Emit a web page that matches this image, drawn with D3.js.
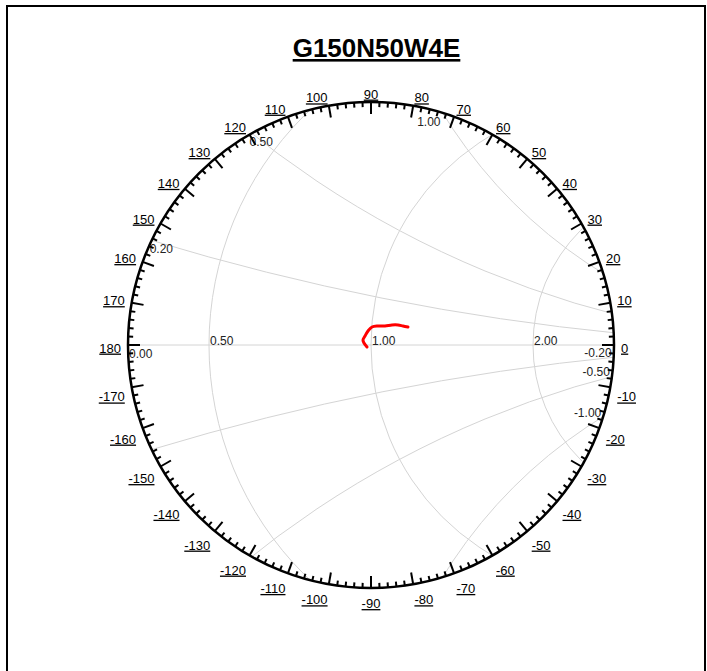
<!DOCTYPE html>
<html>
<head>
<meta charset="utf-8">
<script src="https://cdn.jsdelivr.net/npm/d3@7"></script>
<style>
  body { margin: 0; background: #fff; }
  svg text { font-family: Arial, "Liberation Sans", sans-serif; }
</style>
</head>
<body>
<svg id="chart" width="707" height="671"></svg>
<script>
var title = "G150N50W4E"
var gammaMax = 0.5

// phase labels round the rim (degrees)
var phaseLabels = [0, 10, 20, 30, 40, 50, 60, 70, 80, 90, 100, 110, 120, 130, 140, 150, 160, 170, 180,
  -10, -20, -30, -40, -50, -60, -70, -80, -90, -100, -110, -120, -130, -140, -150, -160, -170]

// smith grid
var resistanceValues = [0.5, 1, 2]
var resistanceLabelValues = [0, 0.5, 1, 2]
var resistanceLabels = ["0.00", "0.50", "1.00", "2.00"]
var reactanceValues = [0.2, 0.5, 1, -0.2, -0.5, -1]
var reactanceLabels = ["0.20", "0.50", "1.00", "-0.20", "-0.50", "-1.00"]

// measured reflection coefficient trace
var gammaRe = [-0.0082, -0.0144, -0.0165, -0.0123, -0.0062, 0.0021, 0.0144, 0.0288, 0.0432, 0.0556, 0.0658, 0.0761]
var gammaIm = [-0.0041, 0.0041, 0.0103, 0.0185, 0.0288, 0.0370, 0.0391, 0.0391, 0.0412, 0.0412, 0.0391, 0.0370]

var dimensions = {
  cx: 371,
  cy: 345,
  radius: 243,
  labelRadius: 250
}

var svg = d3.select("#chart")

// frame
svg.append("rect")
  .attr("x", 7)
  .attr("y", 6)
  .attr("width", 698)
  .attr("height", 720)
  .attr("fill", "none")
  .attr("stroke", "black")
  .attr("stroke-width", 2)

svg.append("text")
  .attr("x", 376.5)
  .attr("y", 57)
  .attr("text-anchor", "middle")
  .style("font-size", "26px")
  .style("font-weight", "bold")
  .style("text-decoration", "underline")
  .text(title)

var x = d3.scaleLinear()
  .domain([-gammaMax, gammaMax])
  .range([dimensions.cx - dimensions.radius, dimensions.cx + dimensions.radius])

var y = d3.scaleLinear()
  .domain([-gammaMax, gammaMax])
  .range([dimensions.cy + dimensions.radius, dimensions.cy - dimensions.radius])

var k = x(1) - x(0)

svg.append("clipPath")
  .attr("id", "disk")
  .append("circle")
    .attr("cx", dimensions.cx)
    .attr("cy", dimensions.cy)
    .attr("r", dimensions.radius)

var grid = svg.append("g")
  .attr("clip-path", "url(#disk)")
  .attr("fill", "none")
  .attr("stroke", "#d4d4d4")
  .attr("stroke-width", 1)

grid.append("line")
  .attr("x1", x(-gammaMax))
  .attr("x2", x(gammaMax))
  .attr("y1", y(0))
  .attr("y2", y(0))

grid.selectAll("circle.r")
  .data(resistanceValues)
  .enter()
  .append("circle")
    .attr("class", "r")
    .attr("cx", d => x(d / (d + 1)))
    .attr("cy", y(0))
    .attr("r", d => k / (d + 1))

grid.selectAll("circle.x")
  .data(reactanceValues)
  .enter()
  .append("circle")
    .attr("class", "x")
    .attr("cx", x(1))
    .attr("cy", d => y(1 / d))
    .attr("r", d => k / Math.abs(d))

// resistance labels on the real axis
svg.selectAll("text.rl")
  .data(resistanceLabelValues)
  .enter()
  .append("text")
    .attr("class", "rl")
    .attr("x", d => x(Math.max(-gammaMax, (d - 1) / (d + 1))) + 1)
    .attr("y", d => d == 0 ? y(0) + 13 : y(0))
    .style("font-size", "12px")
    .attr("fill", "#222")
    .text((d, i) => resistanceLabels[i])

// reactance labels where each arc meets the rim
function reactanceAngle(v){
  var c = (gammaMax * gammaMax + 1) / (2 * gammaMax)
  var phi = Math.atan2(1 / v, 1)
  var m = Math.sqrt(1 + 1 / (v * v))
  return phi + Math.acos(c / m)
}

svg.selectAll("text.xl")
  .data(reactanceValues)
  .enter()
  .append("text")
    .attr("class", "xl")
    .attr("x", d => x(gammaMax * Math.cos(reactanceAngle(d))) - 2)
    .attr("y", d => y(gammaMax * Math.sin(reactanceAngle(d))) + (d > 0 ? 13 : 0))
    .attr("text-anchor", d => Math.cos(reactanceAngle(d)) < 0 ? "start" : "end")
    .style("font-size", "12px")
    .attr("fill", "#222")
    .text((d, i) => reactanceLabels[i])

// rim
svg.append("circle")
  .attr("cx", dimensions.cx)
  .attr("cy", dimensions.cy)
  .attr("r", dimensions.radius)
  .attr("fill", "none")
  .attr("stroke", "black")
  .attr("stroke-width", 2.5)

var tickAngles = d3.range(-178, 181, 2)
svg.append("g")
  .selectAll("line")
  .data(tickAngles)
  .enter()
  .append("line")
    .attr("x1", d => dimensions.cx + dimensions.radius * Math.cos(d * Math.PI / 180))
    .attr("y1", d => dimensions.cy - dimensions.radius * Math.sin(d * Math.PI / 180))
    .attr("x2", d => dimensions.cx + (dimensions.radius - (d % 10 == 0 ? 12 : 5)) * Math.cos(d * Math.PI / 180))
    .attr("y2", d => dimensions.cy - (dimensions.radius - (d % 10 == 0 ? 12 : 5)) * Math.sin(d * Math.PI / 180))
    .attr("stroke", "black")
    .attr("stroke-width", 2)

// phase labels: anchored outside the rim, start on the right, end on the left
function labelAnchor(d){
  var c = Math.cos(d * Math.PI / 180)
  if(c > 0.01) return "start"
  if(c < -0.01) return "end"
  return "middle"
}

function labelShift(d){
  var s = Math.sin(d * Math.PI / 180)
  if(s > 0.01) return -1
  if(s < -0.01) return 8.5
  return 3
}

svg.append("g")
  .selectAll("text")
  .data(phaseLabels)
  .enter()
  .append("text")
    .attr("x", d => dimensions.cx + dimensions.labelRadius * Math.cos(d * Math.PI / 180))
    .attr("y", d => dimensions.cy - dimensions.labelRadius * Math.sin(d * Math.PI / 180) + labelShift(d))
    .attr("text-anchor", labelAnchor)
    .attr("dy", "0.35em")
    .style("font-size", "13px")
    .style("text-decoration", "underline")
    .text(d => d)

// trace
var line = d3.line()
  .x((d, i) => x(gammaRe[i]))
  .y((d, i) => y(gammaIm[i]))
  .curve(d3.curveCatmullRom)

svg.append("path")
  .datum(gammaRe)
  .attr("d", line)
  .attr("fill", "none")
  .attr("stroke", "red")
  .attr("stroke-width", 3)
  .attr("stroke-linejoin", "round")
  .attr("stroke-linecap", "round")
</script>
</body>
</html>
